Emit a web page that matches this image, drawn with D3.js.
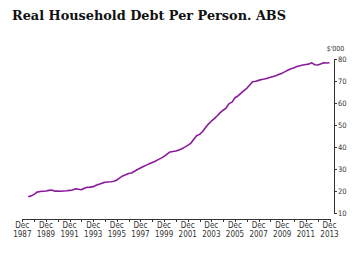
<!DOCTYPE html>
<html>
<head>
<meta charset="utf-8">
<script src="https://cdn.jsdelivr.net/npm/d3@7"></script>
<style>
  body { margin: 0; background: #fff; }
  .axis path, .axis line { stroke: #333; shape-rendering: crispEdges; }
  .axis text { font-family: "Liberation Sans Narrow", "DejaVu Sans Condensed", "Liberation Sans", sans-serif; fill: #333; }
</style>
</head>
<body>
<div class="chart"></div>
<script>
// quarterly real household debt per person, $'000, Jun 1988 - Dec 2013
var firstQuarter = new Date(1988, 5, 1);
var debt = [
  17.4, 17.8, 18.5, 19.5, 19.8, 19.9, 20.0, 20.3, 20.5, 19.9,
  20.0, 19.9, 20.0, 20.1, 20.3, 20.5, 21.0, 20.8, 20.6, 21.3,
  21.7, 21.8, 22.0, 22.6, 23.1, 23.6, 24.0, 24.1, 24.2, 24.5,
  25.0, 26.0, 26.9, 27.4, 28.0, 28.2, 29.0, 29.8, 30.5, 31.2,
  31.8, 32.4, 33.0, 33.6, 34.3, 35.0, 35.8, 36.8, 37.8, 38.0,
  38.2, 38.7, 39.3, 40.0, 40.8, 41.7, 43.5, 45.2, 45.8, 47.0,
  48.8, 50.5, 51.8, 53.0, 54.3, 55.7, 56.8, 57.8, 59.8, 60.5,
  62.5, 63.3, 64.5, 65.7, 66.8, 68.3, 69.8, 70.0, 70.4, 70.8,
  71.0, 71.4, 71.8, 72.2, 72.6, 73.2, 73.7, 74.4, 75.1, 75.7,
  76.2, 76.7, 77.1, 77.4, 77.6, 77.8, 78.4, 77.5, 77.4, 77.9,
  78.4, 78.3, 78.4
];
var tickYears = d3.range(1987, 2014);   // a tick each December
var labelYears = d3.range(1987, 2014, 2);
var yTicks = [10, 20, 30, 40, 50, 60, 70, 80];

var width = 359, height = 253;

var svg = d3.select(".chart").append("svg")
    .attr("width", width)
    .attr("height", height);

svg.append("text")
    .attr("x", 12)
    .attr("y", 19.5)
    .attr("font-family", "DejaVu Serif")
    .attr("font-weight", "bold")
    .attr("font-size", 13)
    .attr("textLength", 274)
    .attr("lengthAdjust", "spacingAndGlyphs")
    .attr("fill", "#111")
    .text("Real Household Debt Per Person. ABS");

var xScale = d3.scaleTime()
    .domain([new Date(1987, 11, 1), new Date(2013, 11, 1)])
    .range([22.3, 329.5]);
var yScale = d3.scaleLinear()
    .domain([10, 80])
    .range([213, 59.3]);

// X axis, yearly ticks, labels every second December
var xAxis = d3.axisBottom(xScale)
    .tickValues(tickYears.map(function(y) { return new Date(y, 11, 1); }))
    .tickSize(3)
    .tickSizeOuter(0)
    .tickFormat(function() { return ""; });
var xAxisEl = svg.append("g")
    .attr("class", "x axis")
    .attr("transform", "translate(0,218.5)")
    .call(xAxis);

var xLabels = svg.append("g")
    .attr("class", "axis")
    .attr("text-anchor", "middle")
    .attr("font-size", 8);
labelYears.forEach(function(y) {
  var t = xLabels.append("text")
      .attr("x", xScale(new Date(y, 11, 1)))
      .attr("y", 228);
  t.append("tspan").text("Dec");
  t.append("tspan").attr("x", xScale(new Date(y, 11, 1))).attr("dy", 9.3).text(y);
});

// Y axis on the right
var yAxis = d3.axisRight(yScale)
    .tickValues(yTicks)
    .tickSize(3)
    .tickSizeOuter(3)
    .tickPadding(1.5);
var yAxisEl = svg.append("g")
    .attr("class", "y axis")
    .attr("transform", "translate(333.5,0)")
    .call(yAxis);
yAxisEl.selectAll("text").attr("font-size", 7.5);
yAxisEl.append("text")
    .attr("x", 2)
    .attr("y", 51)
    .attr("text-anchor", "middle")
    .attr("font-size", 7)
    .text("$'000");

var dates = debt.map(function(d, i) { return d3.timeMonth.offset(firstQuarter, 3 * i); });

var line = d3.line()
    .x(function(d, i) { return xScale(dates[i]); })
    .y(function(d) { return yScale(d); });

svg.append("path")
    .datum(debt)
    .attr("fill", "none")
    .attr("stroke", "#8a1a9b")
    .attr("stroke-width", 1.6)
    .attr("stroke-linejoin", "round")
    .attr("d", line);
</script>
</body>
</html>
